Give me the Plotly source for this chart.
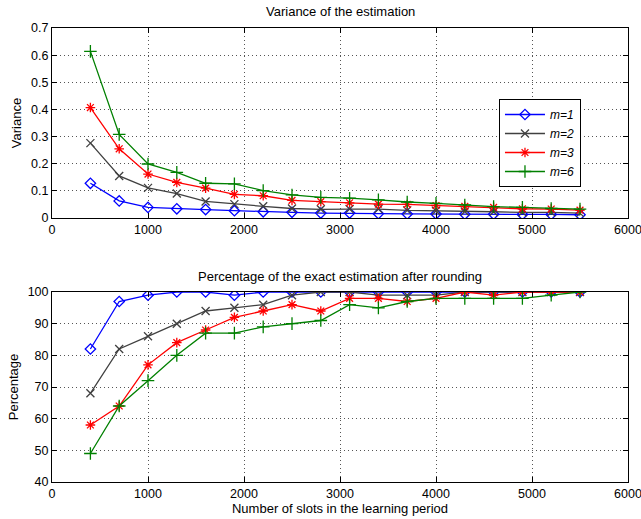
import plotly.graph_objects as go

slots = [400, 700, 1000, 1300, 1600, 1900, 2200, 2500, 2800, 3100, 3400, 3700, 4000, 4300, 4600, 4900, 5200, 5500]

var_m1 = [0.128, 0.063, 0.039, 0.034, 0.031, 0.027, 0.023, 0.021, 0.018, 0.018, 0.016, 0.015, 0.015, 0.014, 0.014, 0.013, 0.013, 0.012]
var_m2 = [0.276, 0.155, 0.111, 0.090, 0.061, 0.051, 0.043, 0.035, 0.032, 0.033, 0.033, 0.028, 0.027, 0.024, 0.023, 0.021, 0.021, 0.018]
var_m3 = [0.407, 0.255, 0.162, 0.131, 0.110, 0.087, 0.082, 0.065, 0.060, 0.056, 0.051, 0.050, 0.046, 0.043, 0.039, 0.034, 0.033, 0.029]
var_m6 = [0.614, 0.308, 0.199, 0.168, 0.128, 0.126, 0.101, 0.085, 0.076, 0.073, 0.067, 0.059, 0.054, 0.048, 0.042, 0.039, 0.035, 0.033]

pct_m1 = [82, 97, 99, 100, 100, 99, 100, 100, 100, 100, 100, 100, 100, 100, 100, 100, 100, 100]
pct_m2 = [68, 82, 86, 90, 94, 95, 96, 99, 100, 100, 99, 99, 99, 100, 100, 100, 100, 100]
pct_m3 = [58, 64, 77, 84, 88, 92, 94, 96, 94, 98, 98, 97, 98, 100, 99, 100, 100, 100]
pct_m6 = [49, 64, 72, 80, 87, 87, 89, 90, 91, 96, 95, 97, 98, 98, 98, 98, 99, 100]

var_ticks = [0, 0.1, 0.2, 0.3, 0.4, 0.5, 0.6, 0.7]
var_ticklabels = ["0", "0.1", "0.2", "0.3", "0.4", "0.5", "0.6", "0.7"]

names = ["m=1", "m=2", "m=3", "m=6"]
colors = ["#0000FF", "#404040", "#FF0000", "#008000"]
symbols = ["diamond-open", "x-thin-open", "asterisk-open", "cross-thin-open"]
sizes = [8, 8, 8, 9]

FONT = "Liberation Sans, Arial, Helvetica, sans-serif"
TICK = 12.5
LAB = 13

fig = go.Figure()
for i, (v, p) in enumerate(zip([var_m1, var_m2, var_m3, var_m6], [pct_m1, pct_m2, pct_m3, pct_m6])):
    mk = dict(symbol=symbols[i], size=sizes[i], color=colors[i], line=dict(color=colors[i], width=1.3))
    fig.add_trace(go.Scatter(x=slots, y=v, mode="lines+markers", name=names[i],
                             line=dict(color=colors[i], width=1.3), marker=mk,
                             xaxis="x", yaxis="y", showlegend=True))
    fig.add_trace(go.Scatter(x=slots, y=p, mode="lines+markers", name=names[i],
                             line=dict(color=colors[i], width=1.3), marker=mk,
                             xaxis="x2", yaxis="y2", showlegend=False))

axis_common = dict(showline=True, linecolor="black", linewidth=1, mirror="allticks",
                   ticks="inside", ticklen=5, tickcolor="black", automargin=False,
                   ticklabeloverflow="allow",
                   showgrid=True, gridcolor="#555555", griddash="1px,3px", gridwidth=1,
                   zeroline=False, tickfont=dict(family=FONT, size=TICK, color="black"))

fig.update_layout(
    width=641, height=519,
    margin=dict(l=52, r=13, t=28, b=37),
    paper_bgcolor="white", plot_bgcolor="white",
    font=dict(family=FONT, size=LAB, color="black"),
    xaxis=dict(domain=[0, 1], range=[0, 6000], dtick=1000, anchor="y", **axis_common),
    yaxis=dict(domain=[0.5815, 1], range=[0, 0.7], tickvals=var_ticks, ticktext=var_ticklabels,
               anchor="x",
               title=dict(text="Variance", font=dict(family=FONT, size=LAB), standoff=6),
               **axis_common),
    xaxis2=dict(domain=[0, 1], range=[0, 6000], dtick=1000, anchor="y2",
                title=dict(text="Number of slots in the learning period", font=dict(family=FONT, size=LAB), standoff=2),
                **axis_common),
    yaxis2=dict(domain=[0, 0.4185], range=[40, 100], dtick=10, anchor="x2",
                title=dict(text="Percentage", font=dict(family=FONT, size=LAB), standoff=6),
                **axis_common),
    legend=dict(x=0.776, y=0.8436, xanchor="left", yanchor="top",
                bgcolor="white", bordercolor="black", borderwidth=1,
                font=dict(family=FONT, size=12, color="black", style="italic"),
                tracegroupgap=0, itemwidth=40),
    annotations=[
        dict(text="Variance of the estimation", x=0.5, y=1, xref="paper", yref="paper",
             xanchor="center", yanchor="bottom", yshift=7, showarrow=False,
             font=dict(family=FONT, size=LAB)),
        dict(text="Percentage of the exact estimation after rounding", x=0.5, y=0.4185,
             xref="paper", yref="paper", xanchor="center", yanchor="bottom", yshift=6,
             showarrow=False, font=dict(family=FONT, size=LAB)),
    ],
)

fig.write_html("out.html", config={"displayModeBar": False},
               post_script="document.body.style.margin='0px';document.body.style.overflow='hidden';")
